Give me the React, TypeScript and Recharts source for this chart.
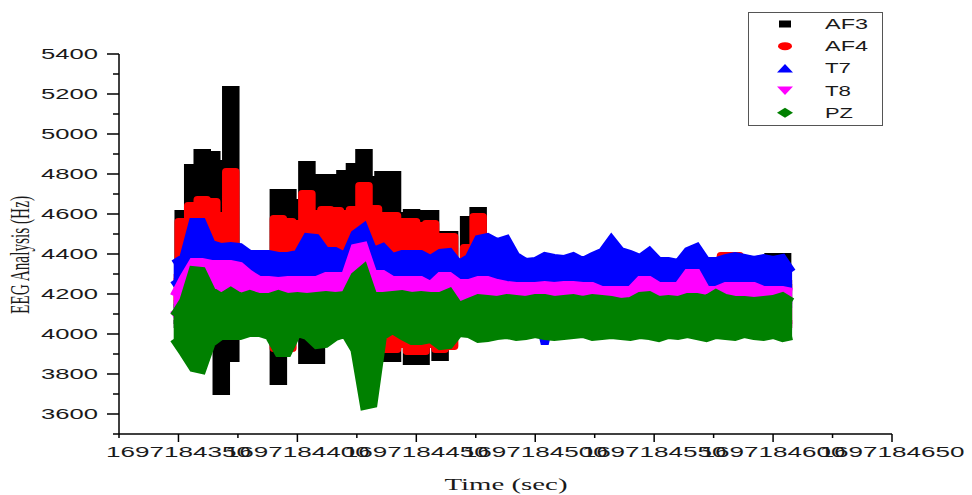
import React from "react";
import { Area, ComposedChart, XAxis, YAxis } from "recharts";

// time offsets (s) from 1697184300
const T0 = 1697184300;
const time = [
  48, 52, 56, 60, 64, 68, 72, 76, 80, 84,
  88, 92, 96, 100, 104, 108, 112, 116, 120, 124,
  128, 132, 136, 140, 144, 148, 152, 156, 160, 164,
  168, 172, 176, 180, 184, 188, 192, 196, 200, 204,
  208, 212, 216, 220, 224, 228, 232, 236, 240, 244,
  248, 252, 256, 260, 264, 268, 272, 276, 280, 284,
  288, 292, 296, 300, 304, 308,
];

// envelope of each channel (upper / lower edge of the dense cloud)
const af3Hi = [
  4150, 4600, 4830, 4905, 4895, 4850, 5220, 4300, 4300, 4300,
  4300, 4705, 4705, 4655, 4845, 4780, 4780, 4780, 4800, 4835,
  4905, 4770, 4795, 4795, 4590, 4605, 4600, 4600, 4495, 4495,
  4300, 4570, 4615, 4300, 4300, 4300, 4300, 4300, 4300, 4300,
  4300, 4300, 4300, 4300, 4300, 4300, 4300, 4300, 4300, 4300,
  4300, 4300, 4300, 4300, 4300, 4300, 4300, 4300, 4300, 4300,
  4300, 4300, 4300, 4385, 4385, 4250,
];
const af3Lo = [
  4050, 4050, 4050, 4050, 4050, 3715, 3880, 4050, 4050, 4050,
  4050, 3765, 4050, 4050, 3870, 3870, 4050, 4050, 4050, 4050,
  4050, 4050, 3880, 3880, 4050, 3865, 3865, 4050, 3885, 4050,
  4050, 4050, 4050, 4050, 4050, 4050, 4050, 4050, 4050, 4050,
  4050, 4050, 4050, 4050, 4050, 4050, 4050, 4050, 4050, 4050,
  4050, 4050, 4050, 4050, 4050, 4050, 4050, 4050, 4050, 4050,
  4050, 4050, 4050, 4050, 4050, 4050,
];
const af4Hi = [
  4280, 4560, 4640, 4670, 4660, 4590, 4810, 4300, 4300, 4300,
  4300, 4575, 4560, 4550, 4700, 4600, 4620, 4615, 4600, 4620,
  4740, 4625, 4590, 4590, 4560, 4560, 4540, 4550, 4485, 4485,
  4300, 4430, 4585, 4300, 4300, 4300, 4300, 4300, 4300, 4300,
  4300, 4300, 4300, 4300, 4300, 4300, 4300, 4300, 4300, 4300,
  4300, 4300, 4300, 4300, 4300, 4300, 4300, 4300, 4390, 4390,
  4300, 4300, 4300, 4300, 4300, 4250,
];
const af4Lo = [
  4170, 4050, 4050, 4050, 4050, 4050, 4050, 4050, 4050, 4050,
  4050, 3930, 3930, 4050, 4050, 4050, 4050, 4050, 4050, 4050,
  4050, 4050, 3925, 3925, 3950, 3915, 3915, 3950, 3925, 3940,
  4050, 4050, 4050, 4050, 4050, 4050, 4050, 4050, 4050, 4050,
  4050, 4050, 4050, 4050, 4050, 4050, 4050, 4050, 4050, 4050,
  4050, 4050, 4050, 4050, 4050, 4050, 4050, 4050, 4050, 4050,
  4050, 4050, 4050, 4050, 4050, 4050,
];
const t7Hi = [
  4350, 4380, 4560, 4560, 4450, 4435, 4440, 4435, 4400, 4400,
  4400, 4390, 4390, 4400, 4485, 4480, 4415, 4415, 4390, 4500,
  4535, 4415, 4435, 4385, 4400, 4400, 4400, 4375, 4405, 4410,
  4350, 4380, 4475, 4485, 4460, 4475, 4390, 4360, 4365, 4390,
  4380, 4375, 4390, 4365, 4390, 4410, 4475, 4415, 4400, 4380,
  4415, 4365, 4365, 4355, 4415, 4435, 4365, 4365, 4380, 4390,
  4380, 4370, 4380, 4370, 4380, 4310,
];
const t7Lo = [
  4270, 4200, 4150, 4150, 4150, 4150, 4150, 4150, 4150, 4150,
  4150, 4150, 4150, 4150, 4150, 4150, 4150, 4150, 4150, 4150,
  4150, 4150, 4150, 4150, 4150, 4150, 4150, 4150, 4150, 4150,
  4150, 4150, 4150, 4150, 4150, 4150, 4150, 4150, 4150, 3950,
  4150, 4150, 4150, 4150, 4150, 4150, 4150, 4150, 4150, 4150,
  4150, 4150, 4150, 4150, 4150, 4150, 4150, 4150, 4150, 4150,
  4150, 4150, 4150, 4150, 4150, 4150,
];
const t8Hi = [
  4190, 4280, 4360, 4360, 4350, 4350, 4350, 4340, 4300, 4270,
  4270, 4265, 4270, 4270, 4270, 4270, 4290, 4290, 4290, 4430,
  4440, 4300, 4300, 4270, 4270, 4270, 4270, 4245, 4290, 4290,
  4255, 4255, 4270, 4270, 4255, 4245, 4240, 4240, 4240, 4245,
  4240, 4245, 4245, 4240, 4240, 4220, 4220, 4220, 4220, 4270,
  4270, 4240, 4240, 4240, 4305, 4305, 4220, 4220, 4240, 4240,
  4240, 4240, 4220, 4220, 4220, 4210,
];
const t8Lo = [
  4120, 4040, 4040, 4040, 4040, 4040, 4040, 4040, 4040, 4040,
  4040, 4040, 4040, 4040, 4040, 4040, 4040, 4040, 4040, 4040,
  4040, 4040, 4040, 4040, 4040, 4040, 4040, 4040, 4040, 4040,
  4040, 4040, 4040, 4040, 4040, 4040, 4040, 4040, 4040, 4040,
  4040, 4040, 4040, 4040, 4040, 4040, 4040, 4040, 4040, 4040,
  4040, 4040, 4040, 4040, 4040, 4040, 4040, 4040, 4040, 4040,
  4040, 4040, 4040, 4040, 4040, 4040,
];
const pzHi = [
  4090, 4165, 4320, 4315, 4215, 4185, 4215, 4185, 4200, 4185,
  4185, 4200, 4185, 4190, 4185, 4190, 4195, 4190, 4195, 4290,
  4330, 4190, 4190, 4195, 4200, 4190, 4195, 4190, 4190, 4210,
  4140, 4160, 4180, 4175, 4170, 4180, 4175, 4170, 4180, 4180,
  4170, 4175, 4180, 4170, 4180, 4175, 4170, 4160, 4165, 4190,
  4195, 4170, 4175, 4170, 4185, 4185, 4175, 4205, 4180, 4170,
  4170, 4165, 4170, 4175, 4190, 4160,
];
const pzLo = [
  3975, 3905, 3830, 3820, 3955, 3990, 3990, 3990, 4005, 4005,
  3990, 3905, 3905, 4005, 3990, 3945, 3950, 3985, 4000, 3920,
  3640, 3650, 3990, 4020, 3990, 3965, 3965, 3975, 3940, 3945,
  4005, 4000, 3975, 3980, 3990, 3995, 3985, 3990, 4000, 3990,
  3985, 3990, 3995, 4000, 3985, 3990, 3995, 3990, 3985, 3995,
  3990, 3980, 3995, 3990, 4000, 3990, 3980, 3995, 3990, 3985,
  4000, 3990, 3985, 3995, 3980, 3990,
];

const xTicks = [25, 50, 75, 100, 125, 150, 175, 200, 225, 250, 275, 300, 325, 350];
const yTicks = [3500, 3600, 3700, 3800, 3900, 4000, 4100, 4200, 4300, 4400, 4500, 4600, 4700, 4800, 4900, 5000, 5100, 5200, 5300, 5400];

type Shape = "square" | "circle" | "up" | "down" | "diamond";

const series: { key: string; name: string; color: string; shape: Shape; curve: "step" | "linear"; join: "miter" | "round"; hi: number[]; lo: number[]; textLen: number }[] = [
  { key: "af3", name: "AF3", color: "#000000", shape: "square", curve: "step", join: "miter", hi: af3Hi, lo: af3Lo, textLen: 43 },
  { key: "af4", name: "AF4", color: "#ff0000", shape: "circle", curve: "step", join: "round", hi: af4Hi, lo: af4Lo, textLen: 43 },
  { key: "t7", name: "T7", color: "#0000ff", shape: "up", curve: "linear", join: "miter", hi: t7Hi, lo: t7Lo, textLen: 26 },
  { key: "t8", name: "T8", color: "#ff00ff", shape: "down", curve: "linear", join: "miter", hi: t8Hi, lo: t8Lo, textLen: 26 },
  { key: "pz", name: "PZ", color: "#008000", shape: "diamond", curve: "linear", join: "miter", hi: pzHi, lo: pzLo, textLen: 28 },
];

const rows = time.map((t, i) => {
  const r: Record<string, any> = { t };
  series.forEach((s) => {
    r[s.key] = [s.lo[i], s.hi[i]];
  });
  return r;
});

function Marker({ shape, cx, cy, color }: { shape: Shape; cx: number; cy: number; color: string }) {
  if (shape === "square") return <rect x={cx - 6} y={cy - 3.5} width={12} height={7} fill={color} />;
  if (shape === "circle") return <ellipse cx={cx} cy={cy} rx={7} ry={4} fill={color} />;
  if (shape === "up")
    return <polygon points={`${cx},${cy - 4.5} ${cx + 8},${cy + 4} ${cx - 8},${cy + 4}`} fill={color} />;
  if (shape === "down")
    return <polygon points={`${cx - 8},${cy - 4} ${cx + 8},${cy - 4} ${cx},${cy + 4.5}`} fill={color} />;
  return <polygon points={`${cx},${cy - 5} ${cx + 8},${cy} ${cx},${cy + 5} ${cx - 8},${cy}`} fill={color} />;
}

const sans = "'Liberation Sans', Arial, sans-serif";
const serif = "'Liberation Serif', 'Times New Roman', serif";

function XTick(props: any) {
  const { x, y, payload } = props;
  const v = payload.value as number;
  const major = v % 50 === 0;
  return (
    <g>
      <line x1={x} y1={y} x2={x} y2={y + (major ? 8 : 4)} stroke="#000" strokeWidth={1.5} />
      {major && (
        <text x={x} y={y + 23} textAnchor="middle" fontSize={14} fontFamily={sans} fill="#1a1a1a"
          textLength={145} lengthAdjust="spacingAndGlyphs">
          {T0 + v}
        </text>
      )}
    </g>
  );
}

function YTick(props: any) {
  const { x, y, payload } = props;
  const v = payload.value as number;
  const major = v % 200 === 0;
  return (
    <g>
      <line x1={x - (major ? 12 : 6)} y1={y} x2={x} y2={y} stroke="#000" strokeWidth={1.5} />
      {major && (
        <text x={x - 21} y={y + 5} textAnchor="end" fontSize={14} fontFamily={sans} fill="#1a1a1a"
          textLength={57} lengthAdjust="spacingAndGlyphs">
          {v}
        </text>
      )}
    </g>
  );
}

export default function App() {
  return (
    <div style={{ position: "absolute", left: 0, top: 0, width: 972, height: 495, background: "#fff" }}>
      <ComposedChart width={972} height={495} data={rows} margin={{ top: 54, right: 80, bottom: 0, left: 0 }}>
        <XAxis
          dataKey="t"
          type="number"
          domain={[25, 350]}
          ticks={xTicks}
          interval={0}
          tick={<XTick />}
          tickLine={false}
          tickSize={0}
          tickMargin={0}
          height={61}
          axisLine={{ stroke: "#000", strokeWidth: 1.5 }}
        />
        <YAxis
          type="number"
          domain={[3500, 5400]}
          ticks={yTicks}
          interval={0}
          tick={<YTick />}
          tickLine={false}
          tickSize={0}
          tickMargin={0}
          width={119}
          axisLine={{ stroke: "#000", strokeWidth: 1.5 }}
        />
        {series.map((s) => (
          <Area
            key={s.key}
            dataKey={s.key}
            type={s.curve}
            stroke={s.color}
            strokeWidth={8}
            strokeLinejoin={s.join}
            strokeMiterlimit={3}
            fill={s.color}
            fillOpacity={1}
            isAnimationActive={false}
            activeDot={false}
          />
        ))}
      </ComposedChart>
      <svg width={972} height={495} style={{ position: "absolute", left: 0, top: 0, pointerEvents: "none" }}>
        <text
          transform="translate(20,255) scale(1.9,1) rotate(-90)"
          textAnchor="middle"
          dominantBaseline="central"
          fontSize={14}
          fontFamily={serif}
          fill="#1a1a1a"
          textLength={118}
          lengthAdjust="spacingAndGlyphs"
        >
          EEG Analysis (Hz)
        </text>
        <text x={506} y={490} textAnchor="middle" fontSize={17} fontFamily={serif} fill="#1a1a1a"
          textLength={123} lengthAdjust="spacingAndGlyphs">
          Time (sec)
        </text>
        <rect x={748.5} y={12.5} width={134} height={113} fill="#fff" stroke="#555" strokeWidth={1} />
        {series.map((s, i) => {
          const cy = 24 + i * 22.2;
          return (
            <g key={s.key}>
              <Marker shape={s.shape} cx={785} cy={cy} color={s.color} />
              <text x={825} y={cy + 5} fontSize={14} fontFamily={sans} fill="#1a1a1a"
                textLength={s.textLen} lengthAdjust="spacingAndGlyphs">
                {s.name}
              </text>
            </g>
          );
        })}
      </svg>
    </div>
  );
}
